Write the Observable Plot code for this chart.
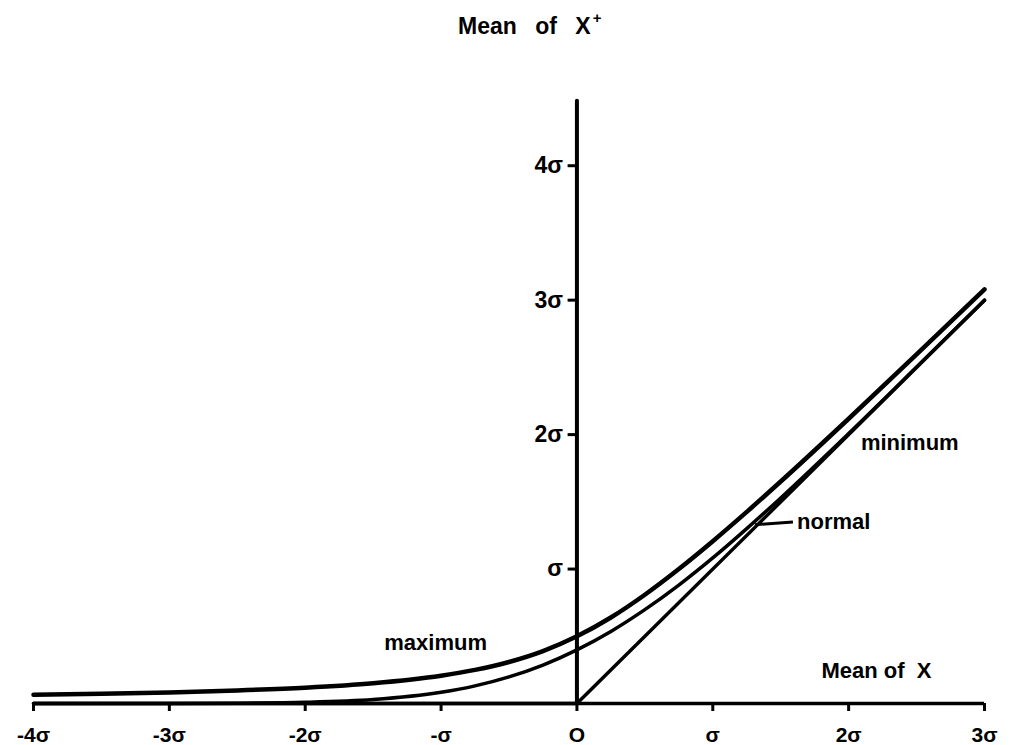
<!DOCTYPE html>
<html>
<head>
<meta charset="utf-8">
<script src="https://cdn.jsdelivr.net/npm/d3@7"></script>
<script src="https://cdn.jsdelivr.net/npm/@observablehq/plot@0.6"></script>
<style>
  html, body { margin: 0; padding: 0; background: #fff; }
  #title {
    height: 40px; box-sizing: border-box; padding-top: 6px; padding-left: 458px;
    font-family: "Liberation Sans", Arial, sans-serif; font-weight: bold; font-size: 23px;
    word-spacing: 12px; color: #000; line-height: 28px;
  }
  #title sup { font-size: 15px; position: relative; top: -2px; margin-left: 2px; }
  svg { display: block; }
</style>
</head>
<body>
<div id="title">Mean of X<sup>+</sup></div>
<div id="chart"></div>
<script>
// Mean of X, in units of sigma
const meanX = [-4, -3.5, -3, -2.5, -2, -1.5, -1, -0.75, -0.5, -0.25, 0, 0.25, 0.5, 0.75, 1, 1.25, 1.5, 2, 2.5, 3];
// Mean of X+ (in sigma)
const maximumY = [0.065, 0.072, 0.082, 0.097, 0.118, 0.151, 0.207, 0.25, 0.309, 0.39, 0.5, 0.64, 0.809, 1.0, 1.207, 1.425, 1.651, 2.118, 2.596, 3.08];
const normalY  = [0.0, 0.0, 0.0004, 0.002, 0.0085, 0.029, 0.083, 0.131, 0.198, 0.286, 0.399, 0.536, 0.698, 0.881, 1.083, 1.301, 1.529, 2.008, 2.502, 3.0];
const minimumX = [-4, 0, 3];
const minimumY = [0, 0, 3];

const xTickValues = [-4, -3, -2, -1, 0, 1, 2, 3];
const xTickLabels = ["-4σ", "-3σ", "-2σ", "-σ", "O", "σ", "2σ", "3σ"];
const yTickValues = [1, 2, 3, 4];
const yTickLabels = ["σ", "2σ", "3σ", "4σ"];

const yAxisTop = 4.48;

const centeredLabels = [
  {text: "maximum", x: -1.04, y: 0.45},
  {text: "minimum", x: 2.45, y: 1.94}
];
const startLabels = [
  {text: "normal", x: 1.62, y: 1.35},
  {text: "Mean of  X", x: 1.80, y: 0.24}
];
const leader = [{x1: 1.31, y1: 1.33, x2: 1.59, y2: 1.35}];

const maxData = meanX.map((x, i) => ({x, y: maximumY[i]}));
const normData = meanX.map((x, i) => ({x, y: normalY[i]}));
const minData = minimumX.map((x, i) => ({x, y: minimumY[i]}));

const font = "Liberation Sans, Arial, sans-serif";

const chart = Plot.plot({
  width: 1013,
  height: 705,
  marginLeft: 33,
  marginRight: 29,
  marginTop: 58,
  marginBottom: 42,
  style: {fontFamily: font, fontWeight: "bold", color: "#000", background: "#fff"},
  x: {domain: [-4, 3]},
  y: {domain: [0, 4.5], axis: null},
  marks: [
    Plot.axisX({
      ticks: xTickValues,
      tickFormat: d => xTickLabels[xTickValues.indexOf(d)],
      tickSize: 8, tickPadding: 16, strokeWidth: 3, fontSize: 21, label: null,
      letterSpacing: 1
    }),
    Plot.ruleY([0], {x1: -4, x2: 3, strokeWidth: 3.5, stroke: "#000"}),
    Plot.ruleX([0], {y1: 0, y2: yAxisTop, strokeWidth: 4, stroke: "#000", strokeLinecap: "round"}),
    Plot.ruleY(yTickValues, {y: d => d, x1: -0.065, x2: 0, strokeWidth: 3, stroke: "#000"}),
    Plot.text(yTickValues, {x: 0, y: d => d, text: (d, i) => yTickLabels[i], dx: -14, textAnchor: "end", fontSize: 23, fontWeight: "bold"}),
    Plot.line(minData, {x: "x", y: "y", stroke: "#000", strokeWidth: 3.5, strokeLinecap: "round"}),
    Plot.line(normData, {x: "x", y: "y", stroke: "#000", strokeWidth: 3.5, curve: "monotone-x", strokeLinecap: "round"}),
    Plot.line(maxData, {x: "x", y: "y", stroke: "#000", strokeWidth: 4.5, curve: "monotone-x", strokeLinecap: "round"}),
    Plot.link(leader, {x1: "x1", y1: "y1", x2: "x2", y2: "y2", stroke: "#000", strokeWidth: 3}),
    Plot.text(centeredLabels, {x: "x", y: "y", text: "text", textAnchor: "middle", fontSize: 22, fontWeight: "bold"}),
    Plot.text(startLabels, {x: "x", y: "y", text: "text", textAnchor: "start", fontSize: 22, fontWeight: "bold", style: {whiteSpace: "pre"}})
  ]
});
document.getElementById("chart").appendChild(chart);
</script>
</body>
</html>
